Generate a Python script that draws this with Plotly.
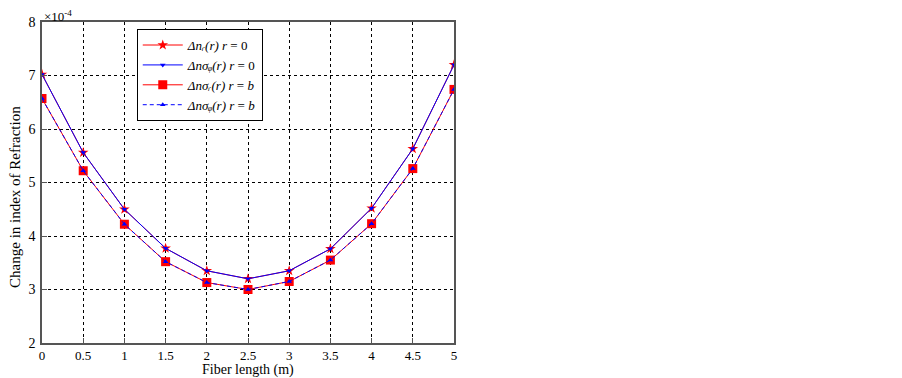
import plotly.graph_objects as go

fiber_length = [0, 0.5, 1, 1.5, 2, 2.5, 3, 3.5, 4, 4.5, 5]
dn_r_r0 = [7.02, 5.56, 4.50, 3.77, 3.35, 3.20, 3.35, 3.76, 4.52, 5.63, 7.20]
dn_phi_r0 = [7.02, 5.56, 4.50, 3.77, 3.35, 3.20, 3.35, 3.76, 4.52, 5.63, 7.20]
dn_r_rb = [6.57, 5.22, 4.22, 3.52, 3.13, 3.00, 3.15, 3.55, 4.23, 5.26, 6.74]
dn_phi_rb = [6.57, 5.22, 4.22, 3.52, 3.13, 3.00, 3.15, 3.55, 4.23, 5.26, 6.74]
x_ticks = [0, 0.5, 1, 1.5, 2, 2.5, 3, 3.5, 4, 4.5, 5]
x_tick_labels = ["0", "0.5", "1", "1.5", "2", "2.5", "3", "3.5", "4", "4.5", "5"]
y_ticks = [2, 3, 4, 5, 6, 7, 8]

FONT = "Liberation Serif, Times New Roman, serif"

fig = go.Figure()
fig.add_trace(go.Scatter(
    x=fiber_length, y=dn_r_r0, mode="lines+markers",
    name="<i>Δnᵣ(r) r</i> = 0",
    line=dict(color="red", width=1),
    marker=dict(symbol="star", size=8, color="red")))
fig.add_trace(go.Scatter(
    x=fiber_length, y=dn_phi_r0, mode="lines+markers",
    name="<i>Δnσᵩ(r) r</i> = 0",
    line=dict(color="blue", width=1),
    marker=dict(symbol="triangle-down", size=5, color="blue")))
fig.add_trace(go.Scatter(
    x=fiber_length, y=dn_r_rb, mode="lines+markers",
    name="<i>Δnσᵣ(r) r</i> = <i>b</i>",
    line=dict(color="red", width=1),
    marker=dict(symbol="square", size=9, color="red")))
fig.add_trace(go.Scatter(
    x=fiber_length, y=dn_phi_rb, mode="lines+markers",
    name="<i>Δnσᵩ(r) r</i> = <i>b</i>",
    line=dict(color="blue", width=1, dash="4px,3px"),
    marker=dict(symbol="triangle-up", size=5, color="blue")))

axis_common = dict(
    showline=True, linecolor="#555555", linewidth=1.5, mirror=True,
    showgrid=True, gridcolor="black", griddash="dot", gridwidth=1,
    ticks="inside", ticklen=5, tickcolor="#555555",
    zeroline=False, automargin=False,
)

# The page body adds an 8px offset, so the figure is sized 894x370.
fig.update_layout(
    width=894, height=370,
    margin=dict(l=34, r=448, t=14, b=35),
    paper_bgcolor="white", plot_bgcolor="white",
    font=dict(family=FONT, color="black"),
    showlegend=True,
    legend=dict(
        x=0.23, y=0.978, xanchor="left", yanchor="top",
        bgcolor="white", bordercolor="black", borderwidth=1,
        font=dict(family=FONT, size=13, color="black"),
        tracegroupgap=0, itemwidth=40,
    ),
    xaxis=dict(
        range=[0, 5], tickvals=x_ticks, ticktext=x_tick_labels,
        tickfont=dict(family=FONT, size=13, color="black"),
        **axis_common),
    yaxis=dict(
        range=[2, 8], tickvals=y_ticks,
        ticklabelstandoff=2,
        tickfont=dict(family=FONT, size=14, color="black"),
        **axis_common),
    annotations=[
        dict(text="×10<sup>-4</sup>", xref="paper", yref="paper", x=0, y=1,
             xanchor="left", yanchor="bottom", showarrow=False, yshift=-4,
             font=dict(family=FONT, size=13, color="black")),
        dict(text="Fiber length (m)", xref="paper", yref="paper", x=0.5, y=0,
             xanchor="center", yanchor="middle", showarrow=False, yshift=-27,
             font=dict(family=FONT, size=14, color="black")),
        dict(text="Change in index of Refraction", xref="paper", yref="paper",
             x=0, y=0.455, xanchor="center", yanchor="middle", xshift=-27,
             textangle=-90, showarrow=False,
             font=dict(family=FONT, size=15, color="black")),
    ],
)

fig.write_html("out.html")
